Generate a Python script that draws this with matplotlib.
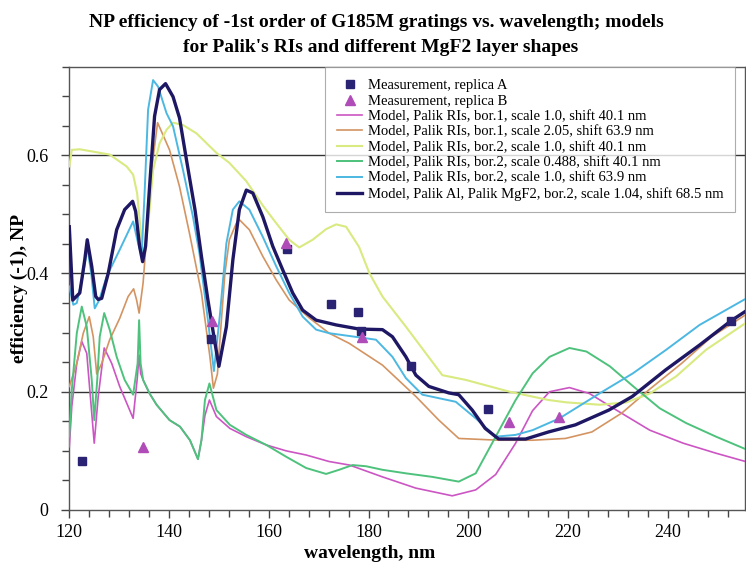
import matplotlib
matplotlib.use("Agg")
import matplotlib.pyplot as plt
from matplotlib.ticker import MultipleLocator, FixedLocator

plt.rcParams['font.family'] = ['Liberation Serif', 'DejaVu Serif']

# ---------------- data ----------------
meas_a_x = [122.5, 148.5, 163.7, 172.4, 177.8, 178.5, 188.5, 203.9, 252.7]
meas_a_y = [0.083, 0.290, 0.441, 0.348, 0.334, 0.302, 0.243, 0.170, 0.320]

meas_b_x = [134.7, 148.7, 163.4, 178.7, 208.1, 218.2]
meas_b_y = [0.107, 0.319, 0.452, 0.292, 0.149, 0.158]

pink_x = [120.0, 120.5, 121.5, 122.5, 123.5, 124.5, 125.0, 125.8, 127.0, 128.5, 130.1, 131.8,
          132.8, 133.6, 134.0, 134.3, 134.8, 136.1, 137.5, 140.1, 142.2, 144.2, 145.8, 146.5,
          147.2, 148.1, 149.5, 152.2, 155.5, 159.5, 163.5, 167.5, 172.1, 176.2, 182.8, 189.5,
          196.8, 201.5, 205.5, 209.5, 212.9, 216.3, 220.3, 224.3, 229.7, 236.4, 243.1, 249.7, 255.6]
pink_y = [0.107, 0.175, 0.248, 0.285, 0.265, 0.164, 0.113, 0.192, 0.274, 0.248, 0.209, 0.175,
          0.155, 0.220, 0.262, 0.231, 0.220, 0.197, 0.178, 0.152, 0.141, 0.118, 0.086, 0.118,
          0.160, 0.186, 0.158, 0.138, 0.124, 0.110, 0.100, 0.093, 0.082, 0.076, 0.056, 0.037,
          0.024, 0.034, 0.060, 0.113, 0.168, 0.200, 0.207, 0.197, 0.169, 0.135, 0.113, 0.096, 0.082]

orange_x = [120.0, 121.5, 122.8, 124.0, 124.8, 125.3, 125.5, 126.5, 128.1, 130.1, 131.8, 132.9,
            133.5, 134.0, 134.8, 135.5, 136.5, 137.7, 138.8, 140.1, 142.1, 144.1, 146.5, 148.2,
            148.9, 149.7, 151.2, 152.1, 153.5, 154.1, 156.1, 158.8, 161.5, 164.1, 168.1, 172.1,
            176.1, 182.8, 189.5, 194.1, 198.1, 206.1, 212.9, 219.5, 224.8, 230.8, 236.2, 242.8,
            248.8, 255.6]
orange_y = [0.209, 0.248, 0.299, 0.327, 0.293, 0.248, 0.230, 0.248, 0.288, 0.324, 0.361, 0.374,
            0.355, 0.333, 0.384, 0.462, 0.575, 0.655, 0.634, 0.609, 0.547, 0.468, 0.367, 0.259,
            0.206, 0.230, 0.400, 0.457, 0.485, 0.491, 0.474, 0.429, 0.389, 0.355, 0.325, 0.299,
            0.282, 0.245, 0.192, 0.152, 0.121, 0.118, 0.118, 0.121, 0.132, 0.164, 0.203, 0.248,
            0.293, 0.330]

yellow_x = [120.0, 120.5, 122.1, 124.8, 128.1, 131.5, 132.8, 133.6, 134.1, 134.8, 135.5, 136.1,
            136.8, 138.1, 139.5, 140.8, 142.8, 145.5, 149.5, 152.1, 155.5, 158.8, 161.5, 164.1,
            166.1, 168.8, 171.5, 173.5, 175.5, 178.1, 180.2, 182.8, 187.5, 191.5, 194.8, 199.5,
            208.3, 216.1, 219.7, 226.4, 231.7, 236.4, 241.7, 247.7, 255.6]
yellow_y = [0.581, 0.609, 0.610, 0.606, 0.601, 0.581, 0.567, 0.536, 0.491, 0.430, 0.460, 0.508,
            0.575, 0.620, 0.643, 0.655, 0.651, 0.637, 0.604, 0.587, 0.556, 0.515, 0.485, 0.457,
            0.444, 0.457, 0.475, 0.483, 0.479, 0.445, 0.400, 0.361, 0.310, 0.265, 0.228, 0.220,
            0.200, 0.186, 0.182, 0.178, 0.182, 0.197, 0.226, 0.271, 0.316]

green_x = [120.0, 120.5, 121.5, 122.5, 123.5, 124.5, 125.0, 125.6, 126.1, 127.0, 128.1, 129.5,
           131.1, 132.8, 133.7, 134.0, 134.3, 134.8, 136.1, 137.5, 140.1, 142.2, 144.2, 145.8,
           146.5, 147.2, 148.1, 149.5, 152.2, 155.5, 159.5, 163.5, 167.5, 171.5, 174.1, 176.8,
           179.5, 182.8, 187.5, 192.8, 198.1, 201.5, 205.5, 209.5, 212.9, 216.3, 220.3, 223.7,
           228.4, 233.1, 238.4, 243.7, 249.7, 255.6]
green_y = [0.124, 0.203, 0.299, 0.344, 0.310, 0.220, 0.152, 0.220, 0.293, 0.333, 0.305, 0.259,
           0.220, 0.195, 0.248, 0.321, 0.248, 0.220, 0.197, 0.178, 0.152, 0.141, 0.118, 0.086,
           0.118, 0.186, 0.214, 0.169, 0.144, 0.127, 0.110, 0.090, 0.071, 0.061, 0.068, 0.076,
           0.074, 0.068, 0.062, 0.056, 0.048, 0.062, 0.124, 0.186, 0.231, 0.259, 0.274, 0.268,
           0.243, 0.209, 0.172, 0.147, 0.124, 0.103]

cyan_x = [120.0, 120.8, 121.5, 122.8, 123.6, 124.4, 125.1, 126.0, 127.5, 130.1, 132.8, 133.8,
          134.5, 135.1, 135.8, 136.8, 137.8, 139.5, 140.8, 142.8, 144.8, 146.1, 147.8, 149.0,
          150.2, 151.5, 152.8, 154.1, 156.1, 158.8, 161.5, 164.1, 166.8, 169.5, 172.1, 178.1,
          181.5, 184.8, 187.5, 190.8, 197.5, 201.5, 205.5, 209.5, 212.9, 218.3, 226.3, 233.0,
          239.7, 246.4, 255.6]
cyan_y = [0.378, 0.347, 0.350, 0.400, 0.445, 0.400, 0.341, 0.355, 0.395, 0.440, 0.488, 0.451,
          0.429, 0.536, 0.677, 0.727, 0.716, 0.671, 0.649, 0.575, 0.496, 0.434, 0.321, 0.235,
          0.330, 0.451, 0.508, 0.522, 0.508, 0.462, 0.412, 0.367, 0.327, 0.305, 0.299, 0.292,
          0.288, 0.259, 0.223, 0.195, 0.183, 0.155, 0.124, 0.127, 0.135, 0.155, 0.197, 0.231,
          0.271, 0.313, 0.357]

navy_x = [120.0, 120.7, 122.1, 123.1, 123.6, 124.5, 125.3, 125.8, 126.5, 127.8, 129.5, 131.1,
          132.7, 133.3, 134.1, 134.7, 135.3, 136.1, 137.1, 138.1, 139.3, 140.8, 142.1, 143.5,
          145.2, 146.5, 147.8, 149.1, 150.0, 151.5, 152.8, 154.1, 155.5, 156.8, 158.8, 160.8,
          162.8, 164.8, 166.8, 169.5, 173.5, 178.1, 182.8, 184.8, 187.5, 189.5, 192.1, 196.1,
          198.1, 200.8, 203.4, 206.1, 211.5, 216.1, 221.5, 228.2, 232.9, 239.6, 246.4, 252.7, 255.6]
navy_y = [0.479, 0.355, 0.367, 0.423, 0.457, 0.412, 0.361, 0.356, 0.358, 0.400, 0.474, 0.508,
          0.522, 0.505, 0.446, 0.420, 0.446, 0.547, 0.666, 0.711, 0.721, 0.699, 0.663, 0.592,
          0.508, 0.429, 0.355, 0.288, 0.243, 0.310, 0.423, 0.508, 0.541, 0.536, 0.496, 0.446,
          0.406, 0.367, 0.338, 0.321, 0.313, 0.306, 0.305, 0.293, 0.259, 0.228, 0.209, 0.198,
          0.195, 0.169, 0.138, 0.120, 0.120, 0.132, 0.144, 0.169, 0.192, 0.237, 0.279, 0.320, 0.336]

labels = [
    "Measurement, replica A",
    "Measurement, replica B",
    "Model, Palik RIs, bor.1, scale 1.0, shift 40.1 nm",
    "Model, Palik RIs, bor.1, scale 2.05, shift 63.9 nm",
    "Model, Palik RIs, bor.2, scale 1.0, shift 40.1 nm",
    "Model, Palik RIs, bor.2, scale 0.488, shift 40.1 nm",
    "Model, Palik RIs, bor.2, scale 1.0, shift 63.9 nm",
    "Model, Palik Al, Palik MgF2, bor.2, scale 1.04, shift 68.5 nm",
]
x_ticks = [120, 140, 160, 180, 200, 220, 240]
y_ticks = [0, 0.2, 0.4, 0.6]
y_tick_labels = ["0", "0.2", "0.4", "0.6"]

# ---------------- figure ----------------
fig = plt.figure(figsize=(7.46, 5.62), dpi=100)
ax = fig.add_axes([69.3 / 746, 52 / 562, 675.7 / 746, 443.5 / 562])

ax.set_xlim(120, 255.5)
ax.set_ylim(0, 0.75)

for yv in [0.2, 0.4, 0.6]:
    ax.axhline(yv, color='#333333', lw=1.0, zorder=1)

series = [
    (pink_x, pink_y, '#CC55C4', 1.2),
    (orange_x, orange_y, '#D49462', 1.2),
    (yellow_x, yellow_y, '#D8EA80', 1.5),
    (green_x, green_y, '#4EC27C', 1.4),
    (cyan_x, cyan_y, '#4CB8E2', 1.4),
    (navy_x, navy_y, '#1E1763', 2.4),
]
ha = ax.plot(meas_a_x, meas_a_y, linestyle='none', marker='s', markersize=6.3,
             color='#2A2272', zorder=5, label=labels[0])[0]
hb = ax.plot(meas_b_x, meas_b_y, linestyle='none', marker='^', markersize=7,
             color='#B04CB8', zorder=5, label=labels[1])[0]
line_handles = []
for (xs, ys, c, lw), lab in zip(series, labels[2:]):
    h = ax.plot(xs, ys, color=c, lw=lw, zorder=3, label=lab, solid_joinstyle='round')[0]
    line_handles.append(h)

ax.xaxis.set_major_locator(FixedLocator(x_ticks))
ax.xaxis.set_minor_locator(MultipleLocator(4))
ax.yaxis.set_major_locator(FixedLocator(y_ticks))
ax.yaxis.set_minor_locator(MultipleLocator(0.05))
ax.set_yticklabels(y_tick_labels)
ax.tick_params(axis='both', which='major', direction='out', length=6, width=1,
               color='#444444', labelsize=13)
ax.tick_params(axis='both', which='minor', direction='out', length=5, width=1, color='#444444')
ax.tick_params(axis='x', pad=4)
ax.tick_params(axis='y', pad=9)

for s in ax.spines.values():
    s.set_color('#555555')
    s.set_linewidth(1.0)

ax.set_xlabel("wavelength, nm", fontsize=14, fontweight='bold')
ax.xaxis.set_label_coords(0.445, -0.078)
ax.set_ylabel("efficiency (-1), NP", fontsize=14, fontweight='bold', labelpad=-1)

fig.text(0.505, 0.960, "NP efficiency of -1st order of G185M gratings vs. wavelength; models",
         ha='center', va='center', fontsize=14, fontweight='bold')
fig.text(0.51, 0.916, "for Palik's RIs and different MgF2 layer shapes",
         ha='center', va='center', fontsize=14, fontweight='bold')

leg = ax.legend([ha, hb] + line_handles, labels, loc='upper right',
                bbox_to_anchor=(0.985, 0.998), borderaxespad=0, fontsize=10.5,
                frameon=True, fancybox=False, handlelength=1.75, handletextpad=0.35,
                labelspacing=0.15, borderpad=0.8, numpoints=1)
leg.get_frame().set_edgecolor('#999999')
leg.get_frame().set_linewidth(0.8)
leg.set_zorder(10)

fig.savefig("out.png", dpi=100)
